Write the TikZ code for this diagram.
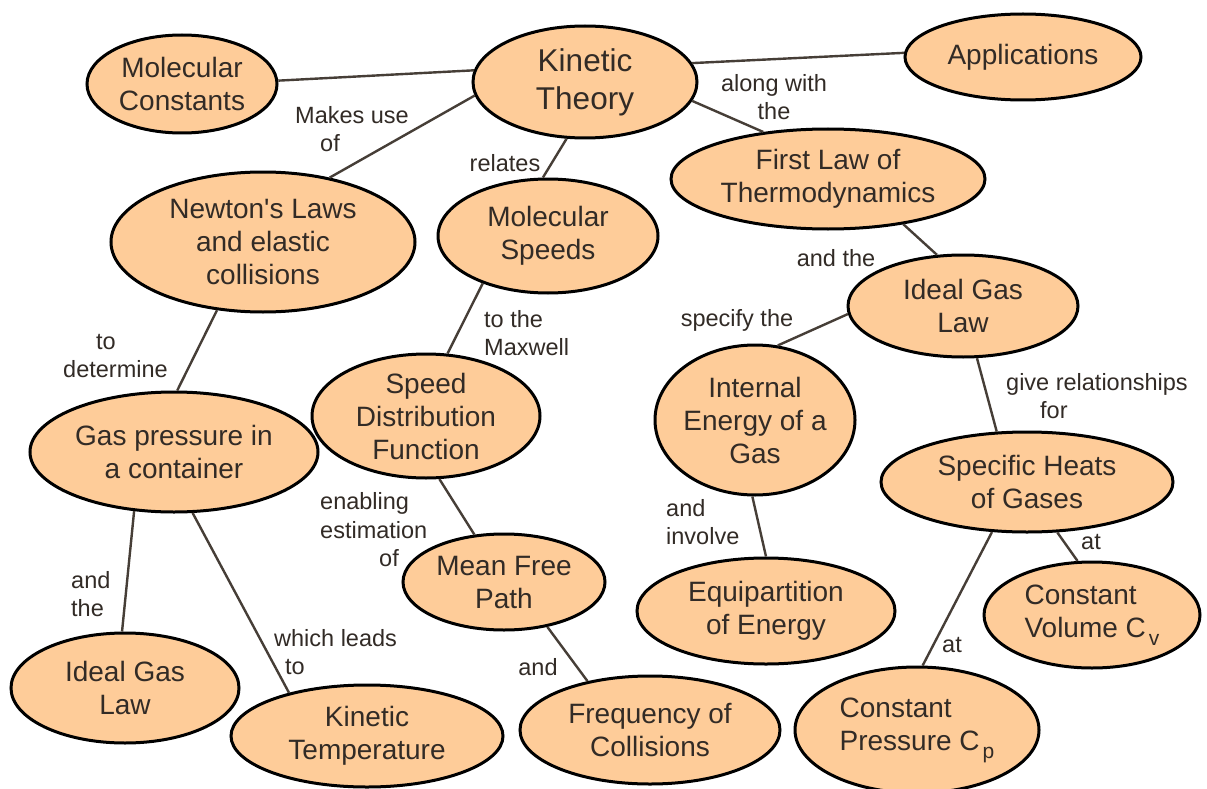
\documentclass[tikz,border=0pt]{standalone}
\usepackage{fontspec}
\setmainfont{Liberation Sans}
\usetikzlibrary{shapes.geometric}
\definecolor{peach}{RGB}{254,204,153}
\definecolor{ink}{RGB}{50,43,38}
\definecolor{wire}{RGB}{70,62,55}
\newcommand{\subv}[1]{\hspace{3pt}\raisebox{-8pt}{\fontsize{21}{21}\selectfont #1}}
\begin{document}
\begin{tikzpicture}[x=1pt,y=-1pt,
  concept/.style={ellipse, draw=black, line width=3pt, fill=peach, text=ink,
    inner sep=-6pt, align=center, font=\fontsize{28}{33}\selectfont},
  lbl/.style={text=ink, inner sep=0pt, font=\fontsize{23.5}{28.5}\selectfont},
  link/.style={draw=wire, line width=2.4pt}]
\fill[white] (0,0) rectangle (1207,789);
\useasboundingbox (0,0) rectangle (1207,789);

% concepts
\node[concept, minimum width=190pt, minimum height=98pt] (mc) at (182,84) {Molecular\\Constants};
\node[concept, minimum width=224pt, minimum height=112pt, font=\fontsize{31.5}{38}\selectfont] (kt) at (585,82) {Kinetic\\Theory};
\node[concept, minimum width=236pt, minimum height=86pt] (app) at (1023,57) {Applications};
\node[concept, minimum width=314pt, minimum height=100pt] (fl) at (828,179) {First Law of\\Thermodynamics};
\node[concept, minimum width=304pt, minimum height=140pt] (nl) at (263,242) {Newton\textquotesingle s Laws\\and elastic\\collisions};
\node[concept, minimum width=220pt, minimum height=114pt] (ms) at (548,236) {Molecular\\Speeds};
\node[concept, minimum width=230pt, minimum height=102pt] (igr) at (963,306) {Ideal Gas\\Law};
\node[concept, minimum width=228pt, minimum height=124pt] (sd) at (426,416) {Speed\\Distribution\\Function};
\node[concept, minimum width=200pt, minimum height=150pt] (ie) at (755,420) {Internal\\Energy of a\\Gas};
\node[concept, minimum width=288pt, minimum height=120pt] (gp) at (174,452) {Gas pressure in\\a container};
\node[concept, minimum width=292pt, minimum height=100pt] (sh) at (1027,482) {Specific Heats\\of Gases};
\node[concept, minimum width=202pt, minimum height=96pt] (mfp) at (504,582) {Mean Free\\Path};
\node[concept, minimum width=258pt, minimum height=106pt] (eq) at (766,611) {Equipartition\\of Energy};
\node[concept, minimum width=216pt, minimum height=106pt, align=left] (cv) at (1092,615) {Constant\\Volume C\subv{v}};
\node[concept, minimum width=228pt, minimum height=110pt] (igl) at (125,688) {Ideal Gas\\Law};
\node[concept, minimum width=272pt, minimum height=102pt] (kte) at (367,736) {Kinetic\\Temperature};
\node[concept, minimum width=260pt, minimum height=108pt] (fc) at (650,730) {Frequency of\\Collisions};
\node[concept, minimum width=244pt, minimum height=126pt, align=left] (cp) at (917,730) {Constant\\Pressure C\subv{p}};

% links
\draw[link] (mc.2) -- (kt.174);
\draw[link] (kt.10) -- (app.178);
\draw[link] (kt.187) -- (nl.44);
\draw[link] (kt.252) -- (ms.95);
\draw[link] (kt.-10) -- (fl.144);
\draw[link] (fl.-31) -- (igr.117);
\draw[link] (igr.184) -- (ie.73);
\draw[link] (igr.285) -- (sh.121);
\draw[link] (sh.-59) -- (cv.105);
\draw[link] (sh.235) -- (cp.85);
\draw[link] (ie.268) -- (eq.90);
\draw[link] (nl.236) -- (gp.87);
\draw[link] (ms.216) -- (sd.71);
\draw[link] (sd.-78) -- (mfp.122);
\draw[link] (mfp.-46) -- (fc.142);
\draw[link] (gp.236) -- (igl.93);
\draw[link] (gp.-73) -- (kte.151);

% link labels
\node[lbl, anchor=west, align=left] (l1) at (295,129) {Makes use\\\hspace*{25pt}of};
\node[lbl] (l2) at (505,163) {relates};
\node[lbl, anchor=west, align=left] (l3) at (63,356) {\hspace*{33pt}to\\determine};
\node[lbl, anchor=west, align=left] (l4) at (484,333) {to the\\Maxwell};
\node[lbl, align=center] (l5) at (774,97) {along with\\the};
\node[lbl] (l6) at (836,258) {and the};
\node[lbl] (l7) at (737,320) {specify the};
\node[lbl, anchor=west, align=left] (l8) at (1006,396) {give relationships\\\hspace*{34pt}for};
\node[lbl, anchor=west, align=left] (l9) at (320,530) {enabling\\estimation\\\hspace*{59pt}of};
\node[lbl, anchor=west, align=left] (l10) at (71,594) {and\\the};
\node[lbl, anchor=west, align=left] (l11) at (274,652) {which leads\\\hspace*{11pt}to};
\node[lbl] (l12) at (538,667) {and};
\node[lbl, anchor=west, align=left] (l13) at (666,522) {and\\involve};
\node[lbl] (l14) at (1091,542) {at};
\node[lbl] (l15) at (952,645) {at};
\end{tikzpicture}
\end{document}
